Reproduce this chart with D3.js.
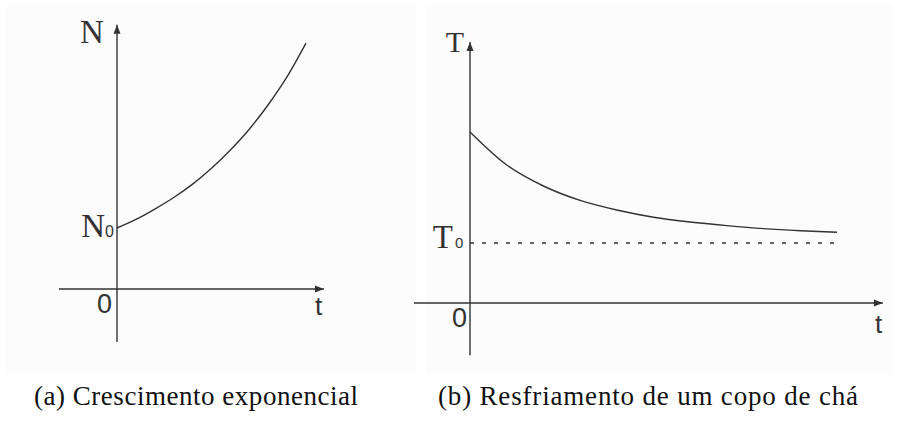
<!DOCTYPE html>
<html>
<head>
<meta charset="utf-8">
<script src="https://cdn.jsdelivr.net/npm/d3@7"></script>
<style>
  body { margin: 0; background: #fff; }
  text.serif { font-family: "Liberation Serif", "DejaVu Serif", serif; }
  text.sans { font-family: "Liberation Sans", Arial, sans-serif; }
</style>
</head>
<body>
<svg id="chart" width="897" height="421"></svg>
<script>
// (a) exponential growth, N in units of N0
var growthT = [0, 1, 2, 3, 4, 5, 6, 7, 8, 9, 10];
var growthN = [1.00, 1.14, 1.31, 1.50, 1.72, 1.98, 2.28, 2.62, 3.02, 3.48, 4.03];

// (b) cooling tea, T in units of T0 (room temperature)
var coolT = [0, 1, 2, 3, 4, 5, 6, 7, 8, 9, 10];
var coolTemp = [2.85, 2.30, 1.95, 1.71, 1.55, 1.43, 1.35, 1.29, 1.24, 1.205, 1.18];
var roomTemp = 1.0;

var captions = ["(a) Crescimento exponencial", "(b) Resfriamento de um copo de chá"];

var ink = "#333";
var svg = d3.select("#chart");

// faint panel backgrounds like the scanned figures
svg.append("rect").attr("x", 5).attr("y", 5).attr("width", 411).attr("height", 370).attr("fill", "#fcfcfc");
svg.append("rect").attr("x", 425).attr("y", 5).attr("width", 467).attr("height", 370).attr("fill", "#fcfcfc");

function arrowLine(g, x1, y1, x2, y2) {
  g.append("line").attr("x1", x1).attr("y1", y1).attr("x2", x2).attr("y2", y2)
    .attr("stroke", ink).attr("stroke-width", 1.4);
  var ang = Math.atan2(y2 - y1, x2 - x1), len = 9, hw = 3.5;
  var bx = x2 - len * Math.cos(ang), by = y2 - len * Math.sin(ang);
  var px = -Math.sin(ang) * hw, py = Math.cos(ang) * hw;
  g.append("path")
    .attr("d", "M" + x2 + "," + y2 + "L" + (bx + px) + "," + (by + py) + "L" + (bx - px) + "," + (by - py) + "Z")
    .attr("fill", ink);
}

function drawAxes(g, x, y, xExt, yExt) {
  // x axis with arrow on the right, y axis with arrow on top
  arrowLine(g, x(xExt[0]), y(0), x(xExt[1]), y(0));
  arrowLine(g, x(0), y(yExt[0]), x(0), y(yExt[1]));
}

function drawCurve(g, x, y, ts, vs) {
  var pts = ts.map(function (t, i) { return [t, vs[i]]; });
  var line = d3.line().x(function (d) { return x(d[0]); }).y(function (d) { return y(d[1]); })
    .curve(d3.curveMonotoneX);
  g.append("path").datum(pts).attr("d", line)
    .attr("fill", "none").attr("stroke", ink).attr("stroke-width", 1.4);
}

function label(g, txt, xx, yy, cls, size, anchor) {
  return g.append("text").attr("x", xx).attr("y", yy).attr("class", cls)
    .attr("font-size", size).attr("fill", ink).attr("text-anchor", anchor || "start").text(txt);
}

// ---- panel (a)
var gA = svg.append("g");
var xA = d3.scaleLinear().domain([0, 10]).range([117, 306]);
var yA = d3.scaleLinear().domain([0, 1]).range([289, 228]);
drawAxes(gA, xA, yA, [-3.07, 10.95], [-0.87, 4.33]);
drawCurve(gA, xA, yA, growthT, growthN);
label(gA, "N", 92, 43, "serif", 33, "middle");
label(gA, "N", 105, 237, "serif", 33, "end");
label(gA, "0", 105, 237, "sans", 16);
label(gA, "0", 112, 313, "sans", 27, "end");
label(gA, "t", 315, 315, "sans", 26);

// ---- panel (b)
var gB = svg.append("g");
var xB = d3.scaleLinear().domain([0, 10]).range([470, 837]);
var yB = d3.scaleLinear().domain([0, 1]).range([303, 243]);
gB.append("line").attr("x1", xB(0)).attr("x2", xB(10)).attr("y1", yB(roomTemp)).attr("y2", yB(roomTemp))
  .attr("stroke", ink).attr("stroke-width", 1.4).attr("stroke-dasharray", "4,8");
drawAxes(gB, xB, yB, [-1.53, 11.25], [-0.87, 4.35]);
drawCurve(gB, xB, yB, coolT, coolTemp);
label(gB, "T", 455, 52, "serif", 30, "middle");
label(gB, "T", 453, 248, "serif", 33, "end");
label(gB, "0", 455, 248, "sans", 15);
label(gB, "0", 467, 327, "sans", 27, "end");
label(gB, "t", 875, 333, "sans", 26);

// ---- captions (LaTeX subcaptions, same size for both)
var capX = [34, 438], capW = [324, 420];
captions.forEach(function (c, i) {
  svg.append("text").attr("x", capX[i]).attr("y", 405).attr("class", "serif")
    .attr("font-family", "Liberation Serif")
    .attr("font-size", 27).attr("fill", "#111")
    .attr("textLength", capW[i]).attr("lengthAdjust", "spacing").text(c);
});
</script>
</body>
</html>
